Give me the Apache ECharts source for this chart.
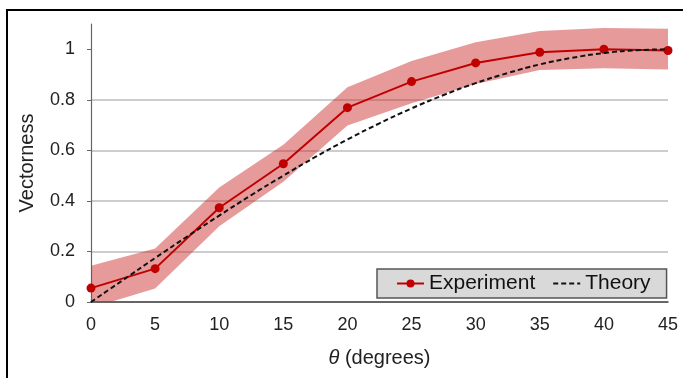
<!DOCTYPE html>
<html>
<head>
<meta charset="utf-8">
<script src="https://cdn.jsdelivr.net/npm/echarts@6/dist/echarts.min.js"></script>
<style>
  html, body { margin: 0; padding: 0; background: #fff; }
  #chart { width: 683px; height: 378px; }
</style>
</head>
<body>
<div id="chart"></div>
<script>
// angles (degrees)
const theta = [0, 5, 10, 15, 20, 25, 30, 35, 40, 45]
// measured vectorness
const experiment = [0.055, 0.132, 0.373, 0.547, 0.769, 0.872, 0.946, 0.988, 1.0, 0.995]
// uncertainty band edges
const bandLower = [-0.023, 0.053, 0.30, 0.476, 0.698, 0.786, 0.863, 0.918, 0.925, 0.92]
const bandUpper = [0.143, 0.212, 0.453, 0.622, 0.85, 0.954, 1.028, 1.072, 1.084, 1.081]
// theory curve, read every 2.5 degrees
const theoryTheta = [0, 2.5, 5, 7.5, 10, 12.5, 15, 17.5, 20, 22.5, 25, 27.5, 30, 32.5, 35, 37.5, 40, 42.5, 45]
const theory = [0, 0.087, 0.174, 0.259, 0.342, 0.423, 0.5, 0.574, 0.643, 0.707, 0.766, 0.819, 0.866, 0.906, 0.94, 0.966, 0.985, 0.996, 1.0]
// axis ticks
const yTicks = [0, 0.2, 0.4, 0.6, 0.8, 1]

const FONT = "'Liberation Sans', Arial, sans-serif"

const chart = echarts.init(document.getElementById("chart"), null, { renderer: "canvas" })

// band polygon: upper edge left->right, then lower edge right->left
function renderBand(params, api) {
  const pts = []
  theta.forEach((t, i) => pts.push(api.coord([t, bandUpper[i]])))
  for (let i = theta.length - 1; i >= 0; i--) pts.push(api.coord([theta[i], bandLower[i]]))
  const cs = params.coordSys
  return {
    type: "polygon",
    shape: { points: pts },
    style: { fill: "rgba(205,40,40,0.47)" },
    clipPath: { type: "rect", shape: { x: cs.x, y: cs.y, width: cs.width, height: cs.height } },
    silent: true,
  }
}

chart.setOption({
  animation: false,
  backgroundColor: "#fff",
  textStyle: { fontFamily: FONT },
  graphic: [
    {
      type: "rect",
      shape: { x: 7, y: 10, width: 720, height: 420 },
      style: { fill: "none", stroke: "#000", lineWidth: 2 },
      silent: true,
    },
  ],
  grid: { left: 91, right: 15, top: 24, bottom: 76 },
  legend: {
    data: ["Experiment", "Theory"],
    left: 377,
    top: 269,
    orient: "horizontal",
    backgroundColor: "#d9d9d9",
    borderColor: "#555",
    borderWidth: 1.5,
    borderRadius: 0,
    padding: [4, 16, 4, 19],
    itemGap: 17,
    itemWidth: 27,
    itemHeight: 10,
    textStyle: { fontSize: 21, color: "#111", fontFamily: FONT },
  },
  xAxis: {
    type: "value",
    min: 0,
    max: 45,
    interval: 5,
    name: "{i|θ} (degrees)",
    nameLocation: "middle",
    nameGap: 46,
    nameTextStyle: {
      fontSize: 20,
      color: "#222",
      rich: { i: { fontStyle: "italic", fontSize: 20, color: "#222", fontFamily: FONT } },
    },
    axisLine: { show: true, onZero: false, lineStyle: { color: "#444", width: 1.5 } },
    axisTick: { show: false },
    axisLabel: { fontSize: 18, color: "#222", margin: 14 },
    splitLine: { show: false },
  },
  yAxis: {
    type: "value",
    min: 0,
    max: 1.1,
    interval: 0.2,
    name: "Vectorness",
    nameLocation: "middle",
    nameGap: 54,
    nameTextStyle: { fontSize: 20, color: "#222" },
    axisLine: { show: true, lineStyle: { color: "#666", width: 1.2 } },
    axisTick: { show: true, length: 4, lineStyle: { color: "#666" }, customValues: yTicks },
    axisLabel: {
      fontSize: 18,
      color: "#222",
      margin: 16,
      customValues: yTicks,
      formatter: (v) => String(v),
    },
    splitLine: { show: true, showMaxLine: false, lineStyle: { color: "#bcbcbc", width: 1.5 } },
  },
  series: [
    {
      name: "band",
      type: "custom",
      renderItem: renderBand,
      data: [[0, 0]],
      silent: true,
      z: 1,
    },
    {
      name: "Experiment",
      type: "line",
      symbol: "circle",
      symbolSize: 9,
      itemStyle: { color: "#c00000" },
      lineStyle: { color: "#c00000", width: 2 },
      data: theta.map((t, i) => [t, experiment[i]]),
      z: 3,
    },
    {
      name: "Theory",
      type: "line",
      symbol: "none",
      smooth: true,
      itemStyle: { color: "rgba(0,0,0,0)" },
      lineStyle: { color: "#111", width: 2, type: [5, 3] },
      data: theoryTheta.map((t, i) => [t, theory[i]]),
      z: 4,
    },
  ],
})
</script>
</body>
</html>
